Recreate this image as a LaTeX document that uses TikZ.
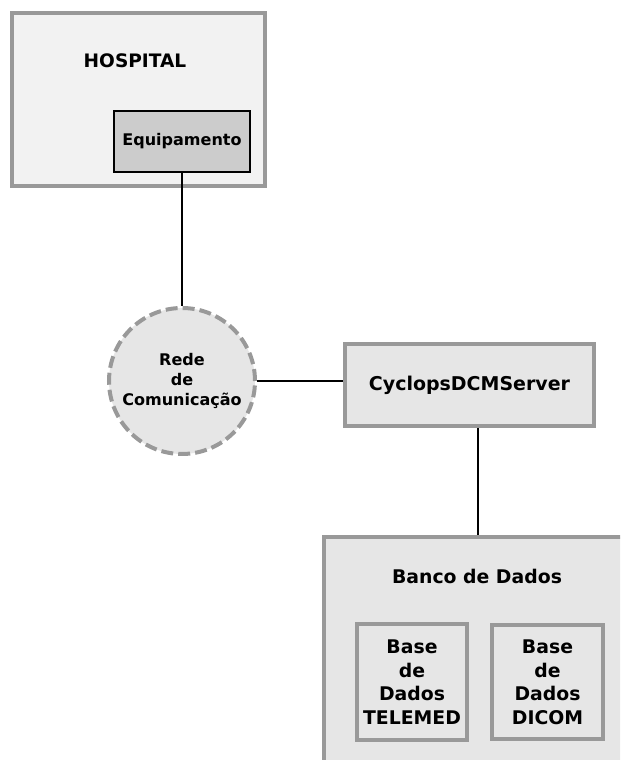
\documentclass[tikz,border=0pt]{standalone}
\usepackage{fontspec}
\setmainfont{DejaVu Sans}
\usepackage{tikz}
\usetikzlibrary{shapes,arrows,positioning}
\definecolor{framegray}{HTML}{999999}
\definecolor{lightfill}{HTML}{E6E6E6}
\definecolor{hospfill}{HTML}{F2F2F2}
\definecolor{equipfill}{HTML}{CCCCCC}
\tikzstyle{gbox} = [rectangle, draw=framegray, line width=2.85pt, fill=lightfill, inner sep=0pt]
\tikzstyle{gtext} = [font=\bfseries\fontsize{13.4pt}{16.8pt}\selectfont, align=center, inner sep=0pt]
\tikzstyle{line} = [draw, line width=0.75pt]

\begin{document}
\begin{tikzpicture}
			\useasboundingbox (0,0) rectangle (15.5,19);
			\clip (0,0) rectangle (15.5,19);
			\node [gbox, fill=hospfill, minimum width=6.325cm, minimum height=4.325cm] (hospital) at (3.4625, 16.5125) {};
			\node [gtext, font=\bfseries\fontsize{13.2pt}{16pt}\selectfont] (hosplabel) at (3.375, 17.49) {HOSPITAL};
			\node [rectangle, draw, line width=0.75pt, fill=equipfill, minimum width=3.4cm, minimum height=1.525cm, font=\bfseries\fontsize{11.4pt}{14pt}\selectfont] (equip) at (4.55, 15.4625) {Equipamento};
			\node [circle, draw=framegray, line width=2.85pt, dash pattern=on 8.5pt off 3.6pt, fill=lightfill, minimum size=3.65cm, inner sep=0pt, align=center, font=\bfseries\fontsize{11.4pt}{13.9pt}\selectfont] (rede) at (4.55, 9.475) {Rede\\de\\Comunicação};
			\node [gbox, minimum width=6.225cm, minimum height=2.05cm, font=\bfseries\fontsize{13.5pt}{16pt}\selectfont] (server) at (11.7375, 9.375) {CyclopsDCMServer};
			\node [gbox, minimum width=7.7cm, minimum height=6.25cm] (banco) at (11.95, 2.45) {};
			\node [gtext] (bancolabel) at (11.925, 4.6) {Banco de Dados};
			\node [gbox, gtext, minimum width=2.75cm, minimum height=2.9cm] (telemed) at (10.3, 1.95) {Base\\de\\Dados\\TELEMED};
			\node [gbox, gtext, minimum width=2.775cm, minimum height=2.85cm] (dicom) at (13.6875, 1.94) {Base\\de\\Dados\\DICOM};

			\path [line] (equip) -- (rede);
			\path [line] (rede.east) -- (rede.east -| server.west);
			\path [line] (banco.north |- server.south) -- (banco.north);
		\end{tikzpicture}
\end{document}
